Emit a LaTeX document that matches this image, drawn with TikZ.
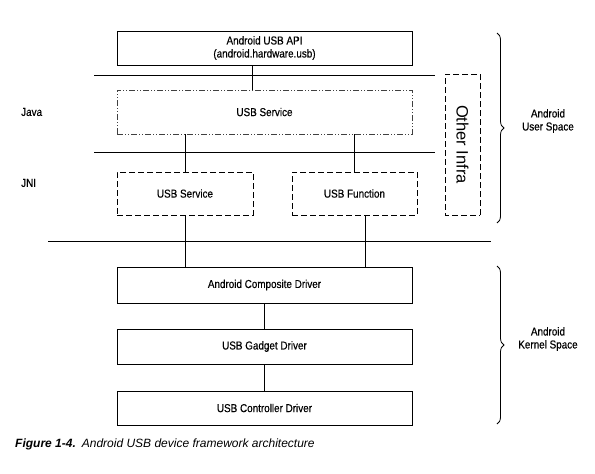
\documentclass[tikz,border=0pt]{standalone}
\usepackage{fontspec}
\setmainfont{Liberation Sans}[FakeStretch=0.86, FakeBold=0.4]
\newfontfamily\plainfont{Liberation Sans}
\usetikzlibrary{positioning, decorations.pathreplacing}

\begin{document}
\begin{tikzpicture}[x=1pt, y=-1pt, font=\fontsize{11.5}{13}\selectfont]
	\tikzstyle{block} = [draw=black, line width=0.8pt, rectangle, inner sep=0pt, align=center, minimum width=295pt]
	\tikzstyle{dashblock} = [block, dash pattern=on 6pt off 3pt]
	\tikzstyle{dotblock} = [block, draw=black!75, dash pattern=on 6pt off 2pt on 1pt off 2pt on 1pt off 2pt]
	\tikzstyle{link} = [line width=0.7pt]
	\tikzstyle{layer} = [line width=1pt]
	\tikzstyle{curly} = [line width=0.8pt, decorate, decoration={brace, amplitude=7pt}]
	\tikzstyle{invis} = [draw=none, inner sep=0pt, align=center]

	\useasboundingbox (0, 0) rectangle (595, 474);

	% user space
	\node[block, minimum height=34pt] 	at (264.5, 48) 	(api) 	{Android USB API\\(android.hardware.usb)};
	\node[dotblock, minimum height=44pt] 	at (264.5, 112) 	(jsvc) 	{USB Service};
	\node[dashblock, minimum width=136pt, minimum height=43pt] 	at (185, 193.5) 	(nsvc) 	{USB Service};
	\node[dashblock, minimum width=125pt, minimum height=43pt] 	at (354.5, 193.5) 	(nfunc) 	{USB Function};
	\node[dashblock, rotate=-90, minimum width=141pt, minimum height=35pt, font=\plainfont\fontsize{16.5}{18}\selectfont] 	at (462.5, 144.5) 	(infra) 	{Other Infra};

	% kernel space
	\node[block, minimum height=36pt] 	at (264.5, 285) 	(comp) 	{Android Composite Driver};
	\node[block, minimum height=35pt] 	at (264.5, 346.5) 	(gadget) 	{USB Gadget Driver};
	\node[block, minimum height=34pt] 	at (264.5, 408) 	(ctrl) 	{USB Controller Driver};

	% layers
	\draw[layer] (94, 75) -- (435, 75);
	\draw[layer] (94, 152.5) -- (435, 152.5);
	\draw[layer] (48, 241) -- (491, 241);
	\node[invis, anchor=west] 	at (21, 112) 	(java) 	{Java};
	\node[invis, anchor=west] 	at (21, 183) 	(jni) 	{JNI};

	\path[link]
	([xshift=-12.5pt]api.south)	edge	([xshift=-12.5pt]api.south |- jsvc.north)
	(nsvc.north |- jsvc.south)	edge	(nsvc.north)
	(nfunc.north |- jsvc.south)	edge	(nfunc.north)
	(nsvc.south)	edge	(nsvc.south |- comp.north)
	([xshift=11pt]nfunc.south)	edge	([xshift=11pt]nfunc.south |- comp.north)
	(comp)	edge	(gadget)
	(gadget)	edge	(ctrl);

	% braces
	\coordinate (u1) at (497, 33);
	\coordinate (u2) at (497, 223);
	\coordinate (k1) at (497, 266);
	\coordinate (k2) at (497, 424);
	\draw[curly] (u1) -- (u2);
	\draw[curly] (k1) -- (k2);
	\node[invis] 	at (548, 121) 	(user) 	{Android\\User Space};
	\node[invis] 	at (548, 339) 	(kernel) 	{Android\\Kernel Space};

	\node[invis, anchor=west, font=\plainfont\fontsize{12}{14}\selectfont] 	at (15, 444) 	(caption) 	{\bfseries\itshape Figure 1-4.\hspace{0.5em}\mdseries Android USB device framework architecture};
\end{tikzpicture}
\end{document}
